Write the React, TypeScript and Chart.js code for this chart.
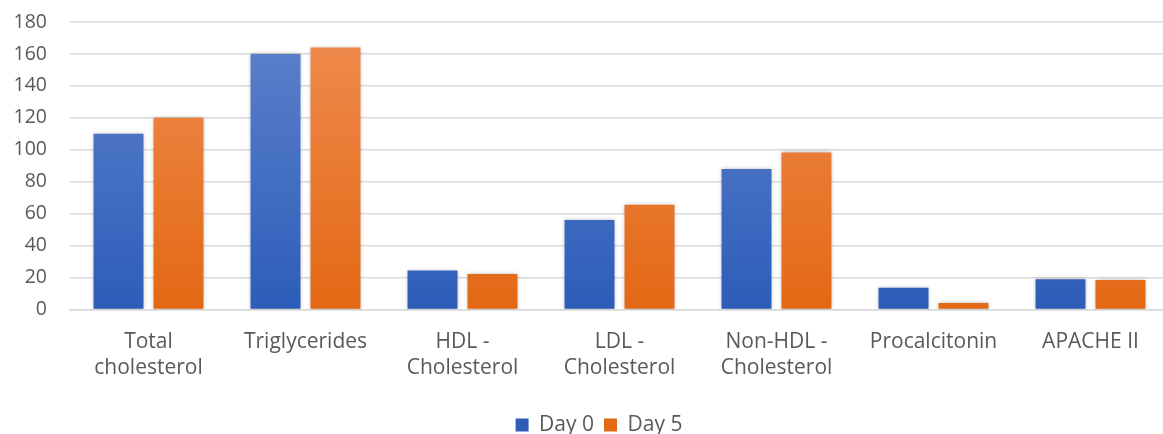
import React, { useEffect, useRef } from "react";
import { Chart, registerables } from "chart.js";

Chart.register(...registerables);

const categories: (string | string[])[] = [
  ["Total", "cholesterol"],
  "Triglycerides",
  ["HDL -", "Cholesterol"],
  ["LDL -", "Cholesterol"],
  ["Non-HDL -", "Cholesterol"],
  "Procalcitonin",
  "APACHE II",
];
const day0 = [110, 160, 24.4, 56, 88, 13.6, 19];
const day5 = [120, 164, 22.3, 65.6, 98.3, 4.1, 18.5];
const yTicks = [0, 20, 40, 60, 80, 100, 120, 140, 160, 180];

const FONT = "'Open Sans', Lato, sans-serif";
const TEXT = "#595959";

function grad(chart: any, top: string, bottom: string, flat: string) {
  const area = chart.chartArea;
  if (!area) return flat;
  const y0 = chart.scales.y.getPixelForValue(0);
  const g = chart.ctx.createLinearGradient(0, area.top, 0, y0);
  g.addColorStop(0, top);
  g.addColorStop(1, bottom);
  return g;
}

const shadowPlugin = {
  id: "barShadow",
  beforeDatasetsDraw(chart: any) {
    const ctx = chart.ctx;
    ctx.save();
    ctx.shadowColor = "rgba(0,0,0,0.28)";
    ctx.shadowBlur = 4;
    ctx.shadowOffsetX = 0;
    ctx.shadowOffsetY = 0;
  },
  afterDatasetsDraw(chart: any) {
    chart.ctx.restore();
  },
};

const legendShift = {
  id: "legendShift",
  afterLayout(chart: any) {
    const lg = chart.legend;
    if (lg) {
      lg.right = chart.width;
      lg.width = lg.right - lg.left;
    }
  },
};

export default function App() {
  const ref = useRef<HTMLCanvasElement | null>(null);
  useEffect(() => {
    if (!ref.current) return;
    const chart = new Chart(ref.current, {
      type: "bar",
      data: {
        labels: categories,
        datasets: [
          {
            label: "Day 0",
            data: day0,
            backgroundColor: (c: any) => grad(c.chart, "#5E82CC", "#2D5DB9", "#4472C4"),
            borderWidth: 0,
          },
          {
            label: "Day 5",
            data: day5,
            backgroundColor: (c: any) => grad(c.chart, "#F08C50", "#E36814", "#ED7D31"),
            borderWidth: 0,
          },
        ],
      },
      plugins: [shadowPlugin, legendShift],
      options: {
        animation: false,
        responsive: false,
        maintainAspectRatio: false,
        layout: { padding: { top: 22, right: 29, left: 0, bottom: -11.5 } },
        datasets: {
          bar: { categoryPercentage: 0.764, barPercentage: 0.833 },
        },
        scales: {
          x: {
            afterFit: (s: any) => {
              s.height = 95;
            },
            grid: { display: false, drawTicks: false },
            border: { display: true, color: "#D9D9D9", width: 1.5 },
            ticks: {
              color: TEXT,
              font: { family: FONT, size: 21, lineHeight: 1.24 },
              padding: 19,
              maxRotation: 0,
              autoSkip: false,
            },
          },
          y: {
            min: 0,
            max: 180,
            afterFit: (s: any) => {
              s.width = 70;
            },
            afterBuildTicks: (s: any) => {
              s.ticks = yTicks.map((v) => ({ value: v }));
            },
            grid: {
              color: "#D9D9D9",
              lineWidth: 1.5,
              drawTicks: true,
              tickLength: 23,
              tickColor: "rgba(0,0,0,0)",
            },
            border: { display: false },
            ticks: {
              color: TEXT,
              font: { family: FONT, size: 19.5 },
              padding: 0,
            },
          },
        },
        plugins: {
          legend: {
            position: "bottom",
            labels: {
              color: TEXT,
              font: { family: FONT, size: 21, lineHeight: 1 },
              boxWidth: 13,
              boxHeight: 13,
              padding: 10,
            },
          },
          tooltip: { enabled: false },
        },
      },
    });
    return () => chart.destroy();
  }, []);
  return (
    <div
      style={{
        position: "fixed",
        left: 0,
        top: 0,
        width: 1163,
        height: 434,
        overflow: "hidden",
        background: "#fff",
      }}
    >
      <canvas ref={ref} width={1198} height={434} style={{ width: 1198, height: 434 }} />
    </div>
  );
}
